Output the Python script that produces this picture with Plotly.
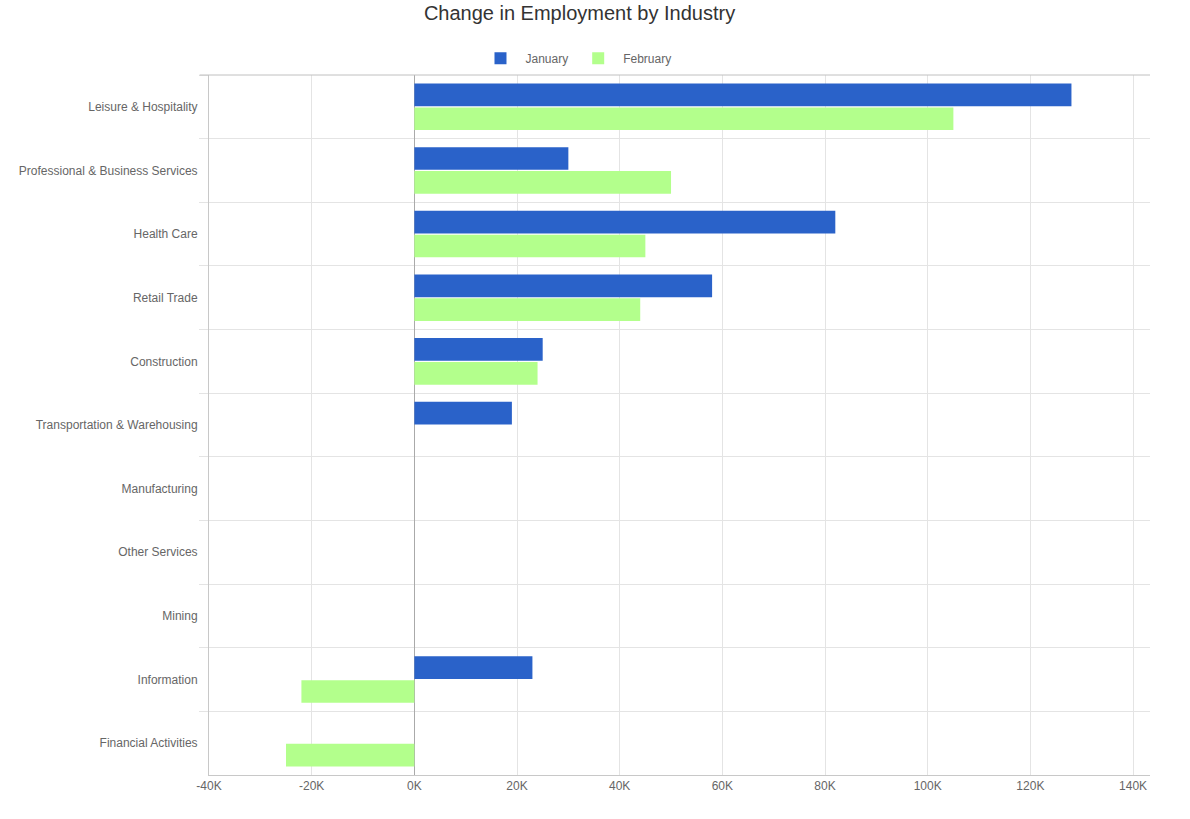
import plotly.graph_objects as go

categories = [
    "Leisure & Hospitality",
    "Professional & Business Services",
    "Health Care",
    "Retail Trade",
    "Construction",
    "Transportation & Warehousing",
    "Manufacturing",
    "Other Services",
    "Mining",
    "Information",
    "Financial Activities",
]
january = [128000, 30000, 82000, 58000, 25000, 19000, 0, 0, 0, 23000, 0]
february = [105000, 50000, 45000, 44000, 24000, 0, 0, 0, 0, -22000, -25000]

tick_vals = [-40000, -20000, 0, 20000, 40000, 60000, 80000, 100000, 120000, 140000]
tick_text = ["-40K", "-20K", "0K", "20K", "40K", "60K", "80K", "100K", "120K", "140K"]

font_family = "Liberation Sans, Arial, sans-serif"

W, H = 1190, 819
fig = go.Figure()
fig.add_trace(go.Bar(
    name="January", y=categories, x=january, orientation="h",
    marker=dict(color="#2a62c9", line=dict(width=0)),
))
fig.add_trace(go.Bar(
    name="February", y=categories, x=february, orientation="h",
    marker=dict(color="#b3ff8c", line=dict(width=0)),
))

fig.update_layout(
    width=W, height=H,
    margin=dict(l=209, r=40, t=75, b=44),
    paper_bgcolor="white", plot_bgcolor="white",
    font=dict(family=font_family, color="#666666", size=12),
    title=dict(text="Change in Employment by Industry", x=0.487, xanchor="center",
               y=1 - 13 / H, yanchor="middle",
               font=dict(size=20, color="#333333", family=font_family)),
    barmode="group", bargap=0.25, bargroupgap=0.05,
    legend=dict(orientation="h", x=0.39, xanchor="center", y=1.024, yanchor="middle",
                font=dict(size=12, color="#666666"), itemwidth=40, traceorder="normal"),
    showlegend=True,
)
fig.update_xaxes(
    range=[-40000, 143300], tickvals=tick_vals, ticktext=tick_text,
    showgrid=True, gridcolor="#e4e4e4", gridwidth=1,
    zeroline=True, zerolinecolor="#aaaaaa", zerolinewidth=1,
    showline=True, linecolor="#c8c8c8", linewidth=1,
    ticks="", tickfont=dict(size=12, color="#666666"),
    fixedrange=True,
)
fig.update_yaxes(
    autorange="reversed", tickson="boundaries",
    showgrid=True, gridcolor="#e4e4e4", gridwidth=1,
    ticks="outside", ticklen=9, tickcolor="#e4e4e4",
    ticklabelstandoff=8,
    showline=True, linecolor="#c8c8c8", linewidth=1, mirror=False,
    tickfont=dict(size=12, color="#666666"),
    fixedrange=True,
)
fig.add_shape(type="line", xref="paper", yref="paper", x0=-0.01, x1=1, y0=1, y1=1,
              line=dict(color="#c0c0c0", width=1))

fig.write_html("out.html", config={"displayModeBar": False},
               post_script="document.body.style.margin='0px';")
